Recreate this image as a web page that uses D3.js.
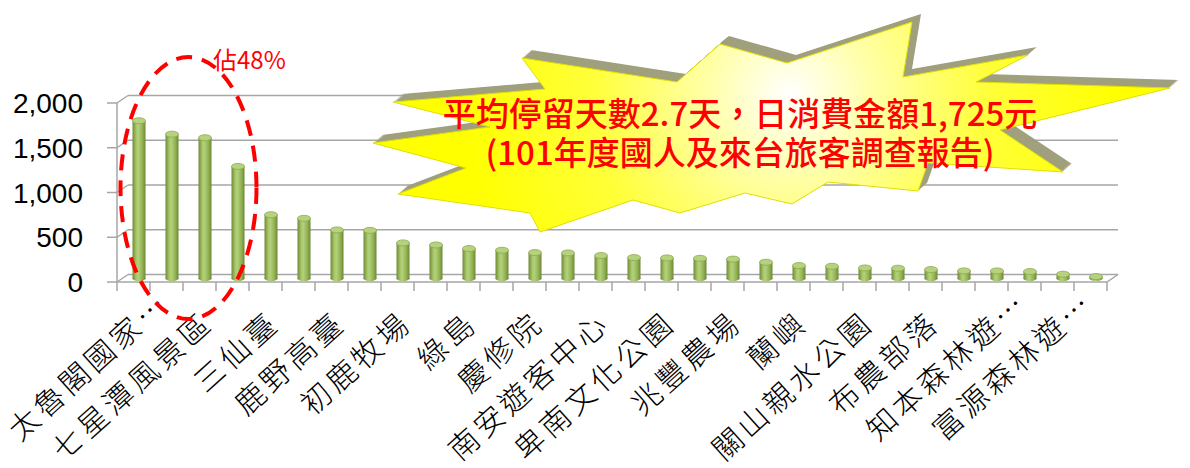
<!DOCTYPE html>
<html>
<head>
<meta charset="utf-8">
<script src="https://cdn.jsdelivr.net/npm/d3@7"></script>
<style>
  body { margin: 0; background: #fff; }
  svg { display: block; }
</style>
</head>
<body>
<svg id="chart" width="1190" height="468"></svg>
<script>
// category labels (only every other one is shown on the axis)
const labels = ["太魯閣國家…", "七星潭風景區", "三仙臺", "鹿野高臺", "初鹿牧場", "綠島", "慶修院",
  "南安遊客中心", "卑南文化公園", "兆豐農場", "蘭嶼", "關山親水公園", "布農部落", "知本森林遊…", "富源森林遊…"];
// visitors per site
const values = [1760, 1610, 1570, 1250, 710, 670, 540, 535, 395, 372, 332, 313, 287, 283, 254,
  231, 227, 223, 214, 179, 142, 134, 115, 112, 97, 82, 82, 75, 45, 19];
const yTicks = [0, 500, 1000, 1500, 2000];
const calloutLines = ["平均停留天數2.7天，日消費金額1,725元", "(101年度國人及來台旅客調查報告)"];
const shareNote = "佔48%";
const highlighted = 4; // first four bars circled

const svg = d3.select("#chart");

// 3d depth offset of the back wall
const depth = { dx: 11, dy: -7.5 };

const x = d3.scaleBand()
  .domain(d3.range(values.length))
  .range([117, 1107])
  .padding(0);

const y = d3.scaleLinear()
  .domain([0, 2000])
  .range([282, 103]);

const gridColor = "#a6a6a6";
const defs = svg.append("defs");

// cylinder body gradient
const body = defs.append("linearGradient").attr("id", "cyl");
[["0%", "#6f8a37"], ["30%", "#a9c86a"], ["45%", "#b3d07a"], ["75%", "#93b354"], ["100%", "#6c8735"]]
  .forEach(([o, c]) => body.append("stop").attr("offset", o).attr("stop-color", c));

// back gridlines + side wall diagonals
const grid = svg.append("g");
yTicks.forEach((t) => {
  grid.append("line")
    .attr("x1", x.range()[0] + depth.dx).attr("x2", x.range()[1] + depth.dx)
    .attr("y1", y(t) + depth.dy).attr("y2", y(t) + depth.dy)
    .attr("stroke", gridColor).attr("stroke-width", 1.5);
  grid.append("line")
    .attr("x1", x.range()[0]).attr("x2", x.range()[0] + depth.dx)
    .attr("y1", y(t)).attr("y2", y(t) + depth.dy)
    .attr("stroke", gridColor).attr("stroke-width", 1.5);
  // left ticks
  grid.append("line")
    .attr("x1", x.range()[0] - 10).attr("x2", x.range()[0])
    .attr("y1", y(t)).attr("y2", y(t))
    .attr("stroke", gridColor).attr("stroke-width", 1.5);
});

// floor
const x0 = x.range()[0], x1 = x.range()[1];
grid.append("path")
  .attr("d", `M${x0},${y(0)}L${x1},${y(0)}L${x1 + depth.dx},${y(0) + depth.dy}`)
  .attr("fill", "none").attr("stroke", gridColor).attr("stroke-width", 1.5);
grid.append("line")
  .attr("x1", x0).attr("x2", x0).attr("y1", y(2000)).attr("y2", y(0))
  .attr("stroke", gridColor).attr("stroke-width", 1.5);

// category ticks
grid.selectAll(".xt")
  .data(d3.range(values.length + 1))
  .enter().append("line")
  .attr("x1", (i) => x0 + i * x.bandwidth()).attr("x2", (i) => x0 + i * x.bandwidth())
  .attr("y1", y(0)).attr("y2", y(0) + 9)
  .attr("stroke", gridColor).attr("stroke-width", 1.5);

// y tick labels
svg.append("g").selectAll("text")
  .data(yTicks)
  .enter().append("text")
  .attr("x", 83).attr("y", (d) => y(d)).attr("dy", "0.36em")
  .attr("text-anchor", "end")
  .style("font-family", "'Liberation Sans', Arial, sans-serif")
  .style("font-size", "28px")
  .style("fill", "#000")
  .text(d3.format(","));

// bars as cylinders, sitting half-way into the depth
const rx = 6.5, ry = 3;
const bars = svg.append("g").selectAll("g")
  .data(values)
  .enter().append("g")
  .attr("transform", (d, i) => `translate(${x(i) + x.bandwidth() / 2 + depth.dx / 2},${depth.dy / 2})`);

bars.append("ellipse")
  .attr("cx", 0).attr("cy", y(0)).attr("rx", rx).attr("ry", ry)
  .attr("fill", "url(#cyl)");
bars.append("rect")
  .attr("x", -rx).attr("width", rx * 2)
  .attr("y", (d) => y(d)).attr("height", (d) => y(0) - y(d))
  .attr("fill", "url(#cyl)");
bars.append("ellipse")
  .attr("cx", 0).attr("cy", (d) => y(d)).attr("rx", rx).attr("ry", ry)
  .attr("fill", "#b7d27f").attr("stroke", "#8aa94c").attr("stroke-width", 0.8);

// rotated category labels under every second bar
// truncated names ("…") hang a little past the tick, like in the original
const angle = -42;
const rad = (angle * Math.PI) / 180;
svg.append("g").selectAll("text")
  .data(labels)
  .enter().append("text")
  .attr("transform", (d, k) => {
    const cx = x(k * 2) + x.bandwidth() / 2;
    const push = d.endsWith("…") ? 30 : 0;
    return `translate(${cx + 9 + push * Math.cos(rad)},${318 + push * Math.sin(rad)}) rotate(${angle})`;
  })
  .attr("dy", "0.35em")
  .attr("text-anchor", "end")
  .style("font-family", "'Noto Sans CJK TC', sans-serif")
  .style("font-weight", 300)
  .style("font-size", "30px")
  .style("letter-spacing", "4px")
  .style("fill", "#000")
  .text((d) => d);

// starburst callout
const burst = [[393, 102], [545, 89], [522, 58], [677, 82], [720, 44], [787, 63], [912, 22], [903, 77],
  [1028, 55], [976, 82], [1170, 88], [1000, 130], [1063, 172], [928, 163], [918, 191], [828, 182],
  [792, 204], [745, 193], [680, 213], [633, 200], [540, 232], [530, 213], [398, 194], [466, 168],
  [373, 143], [490, 127]];

const glow = defs.append("radialGradient").attr("id", "glow")
  .attr("gradientUnits", "userSpaceOnUse")
  .attr("cx", 790).attr("cy", 95).attr("r", 330);
[["0%", "#ffffff"], ["25%", "#ffffa8"], ["60%", "#ffff3a"], ["100%", "#ffff00"]]
  .forEach(([o, c]) => glow.append("stop").attr("offset", o).attr("stop-color", c));

const line = d3.line();
const star = svg.append("g");
d3.range(12, 0, -1).forEach((s) => {
  const t = s / 12;
  star.append("path")
    .attr("d", line(burst) + "Z")
    .attr("transform", `translate(${9 * t},${-8 * t})`)
    .attr("fill", "#a0a07e");
});
star.append("path")
  .attr("d", line(burst) + "Z")
  .attr("fill", "url(#glow)")
  .attr("stroke", "#e0e000").attr("stroke-width", 1);

const callout = svg.append("g");
callout.selectAll("text")
  .data(calloutLines)
  .enter().append("text")
  .attr("x", 740).attr("y", (d, i) => 126 + i * 39)
  .attr("text-anchor", "middle")
  .style("font-family", "'Noto Sans CJK TC', sans-serif")
  .style("font-weight", 500)
  .style("font-size", "33px")
  .style("fill", "#ff0000")
  .text((d) => d);

// dashed ellipse round the top sites
const first = x(0) + x.bandwidth() / 2 + depth.dx / 2;
const last = x(highlighted - 1) + x.bandwidth() / 2 + depth.dx / 2;
svg.append("ellipse")
  .attr("cx", (first + last) / 2).attr("cy", 188)
  .attr("rx", 68).attr("ry", 131)
  .attr("fill", "none")
  .attr("stroke", "#ff0000").attr("stroke-width", 4)
  .attr("stroke-dasharray", "16,10");

svg.append("text")
  .attr("x", 213).attr("y", 69)
  .style("font-family", "'Noto Sans CJK TC', sans-serif")
  .style("font-size", "24px")
  .style("fill", "#ff0000")
  .text(shareNote);
</script>
</body>
</html>
